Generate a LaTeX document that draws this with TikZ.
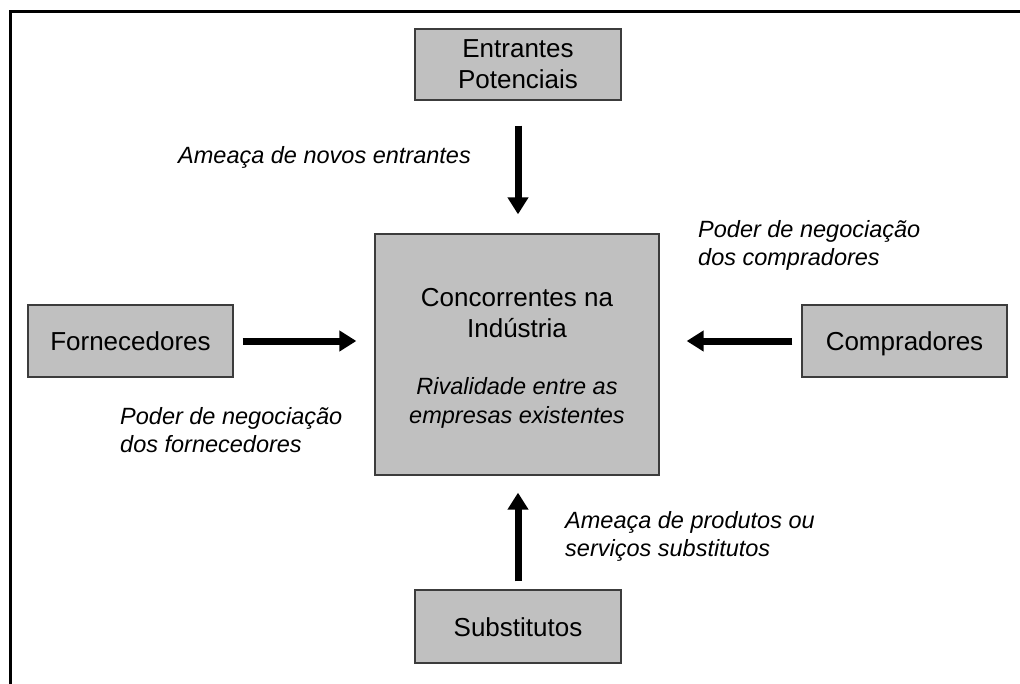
\documentclass[tikz,border=0pt]{standalone}
\usepackage{fontspec}
\setmainfont{Liberation Sans}
\usetikzlibrary{arrows.meta}
\definecolor{boxfill}{RGB}{192,192,192}
\definecolor{boxline}{RGB}{60,60,60}
\newcommand\mainfnt{\fontsize{26}{31}\selectfont}
\newcommand\lblfnt{\fontsize{23.5}{28}\selectfont\itshape}
\begin{document}
\begin{tikzpicture}[x=1pt,y=-1pt,
  box/.style={draw=boxline, line width=1.3pt, fill=boxfill, inner sep=0pt, align=center, font=\mainfnt},
  onebox/.style={box, text height=19pt, text depth=0pt},
  lbl/.style={inner sep=0pt, align=left, anchor=base west, font=\lblfnt},
  arr/.style={line width=7pt, -{Triangle[width=20pt,length=17pt]}}]
\useasboundingbox (0,0) rectangle (1020,683);
\begin{scope}
\clip (0,0) rectangle (1020,683);
\draw[line width=3pt] (10,11) rectangle (1040,700);
\end{scope}
\node[box, minimum width=206pt, minimum height=71pt] (ent) at (518,64.5) {Entrantes\\Potenciais};
\node[box, minimum width=284pt, minimum height=241pt] (conc) at (517,354.5)
  {\rule{0pt}{25pt}Concorrentes na\\Indústria\\[26pt]\lblfnt Rivalidade entre as\\[-2pt]\lblfnt empresas existentes};
\node[onebox, minimum width=205pt, minimum height=72pt] (forn) at (130.5,341) {Fornecedores};
\node[onebox, minimum width=205pt, minimum height=72pt] (comp) at (904.5,341) {Compradores};
\node[onebox, minimum width=206pt, minimum height=73pt] (sub) at (518,626.5) {Substitutos};
\draw[arr, shorten <=25pt, shorten >=19pt] (ent) -- (ent |- conc.north);
\draw[arr, shorten <=8pt, shorten >=17pt] (sub) -- (sub |- conc.south);
\draw[arr, shorten <=9pt, shorten >=18pt] (forn) -- (forn -| conc.west);
\draw[arr, shorten <=9pt, shorten >=27pt] (comp) -- (comp -| conc.east);
\node[lbl] (l1) at (178,163) {Ameaça de novos entrantes};
\node[lbl] (l2) at (698,265) {Poder de negociação\\dos compradores};
\node[lbl] (l3) at (120,452) {Poder de negociação\\dos fornecedores};
\node[lbl] (l4) at (565,556) {Ameaça de produtos ou\\serviços substitutos};
\end{tikzpicture}
\end{document}
